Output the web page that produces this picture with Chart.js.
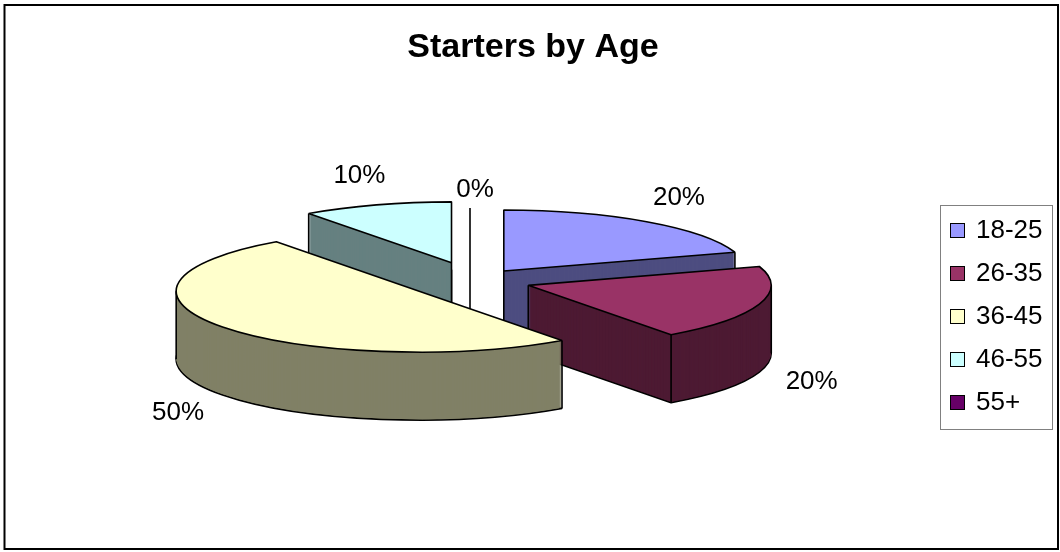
<!DOCTYPE html>
<html>
<head>
<meta charset="utf-8">
<script src="https://cdn.jsdelivr.net/npm/chart.js@4.4.1/dist/chart.umd.min.js"></script>
<style>
  html, body { margin: 0; padding: 0; background: #fff; }
</style>
</head>
<body>
<canvas id="myChart" width="1060" height="552" style="width:1060px;height:552px"></canvas>
<script>
const chartTitle = 'Starters by Age';
const categories = ['18-25', '26-35', '36-45', '46-55', '55+'];
const shares = [20, 20, 50, 10, 0];

const topColors = ['#9999FF', '#993366', '#FFFFCC', '#CCFFFF', '#660066'];
const sideColors = ['#4D4D80', '#4D1A33', '#808066', '#668080', '#330033'];
const explode = [49, 56, 69, 76, 0];

const FONT = 'Arial, "Liberation Sans", sans-serif';

// draws a slice through the library's own arc element, squashed and shifted
function paintArc(ctx, s, dy, fill, line, k) {
  const arc = s.arc;
  const orig = arc.options;
  arc.options = Object.assign({}, orig, { backgroundColor: fill, borderWidth: line, offset: 0, spacing: 0 });
  ctx.save();
  ctx.translate(s.cx, s.cy + dy);
  ctx.scale(1, k);
  ctx.translate(-arc.x, -arc.y);
  arc.draw(ctx);
  ctx.restore();
  arc.options = orig;
}

function drawSlice(ctx, s, opts, k) {
  const arc = s.arc;
  const depth = opts.depth;
  const r = arc.outerRadius;
  const line = arc.options.borderWidth;
  const a0 = arc.startAngle, a1 = arc.endAngle;

  if (arc.circumference === 0) {
    // empty slice: its cut face is seen edge-on
    ctx.beginPath();
    ctx.moveTo(s.cx - 5, s.cy - r * k - 12);
    ctx.lineTo(s.cx - 5, s.cy + depth);
    ctx.lineWidth = line;
    ctx.strokeStyle = '#000';
    ctx.stroke();
    return;
  }

  const side = opts.sides[s.i];
  paintArc(ctx, s, depth, side, line, k);
  for (let dy = depth - 1; dy > 0; dy--) paintArc(ctx, s, dy, side, 0, k);

  // vertical edges that can be seen
  const eps = 1e-6;
  const at = (a) => [s.cx + Math.cos(a) * r, s.cy + Math.sin(a) * r * k];
  const startFace = Math.cos(a0) < -eps;
  const endFace = Math.cos(a1) > eps;
  const pts = [];
  if (startFace || endFace) pts.push([s.cx, s.cy]);
  if (startFace || Math.sin(a0) > eps) pts.push(at(a0));
  if (endFace || Math.sin(a1) > eps) pts.push(at(a1));
  [0, Math.PI, 2 * Math.PI].forEach(a => { if (a > a0 + eps && a < a1 - eps) pts.push(at(a)); });
  ctx.beginPath();
  pts.forEach(([x, y]) => { ctx.moveTo(x, y); ctx.lineTo(x, y + depth); });
  ctx.lineWidth = line;
  ctx.strokeStyle = '#000';
  ctx.stroke();

  paintArc(ctx, s, 0, arc.options.backgroundColor, line, k);
}

const pie3d = {
  id: 'pie3d',
  beforeDatasetsDraw(chart, args, opts) {
    const ctx = chart.ctx;
    const meta = chart.getDatasetMeta(0);
    const k = opts.squash;
    const base = ctx.getTransform();
    const slices = meta.data.map((arc, i) => {
      const mid = (arc.startAngle + arc.endAngle) / 2;
      const e = opts.explode[i] || 0;
      return { arc, i, mid, cx: arc.x + Math.cos(mid) * e, cy: arc.y + Math.sin(mid) * e * k };
    });
    // back slices first
    const order = slices.slice().sort((a, b) => Math.sin(a.mid) - Math.sin(b.mid));

    // outlines are stroked without the squash so they keep an even width
    const protoStroke = CanvasRenderingContext2D.prototype.stroke;
    ctx.stroke = function () {
      this.save();
      this.setTransform(base);
      protoStroke.call(this);
      this.restore();
    };
    order.forEach(s => drawSlice(ctx, s, opts, k));
    delete ctx.stroke;

    // percentage labels
    ctx.save();
    ctx.font = opts.labelSize + 'px ' + FONT;
    ctx.fillStyle = '#000';
    ctx.textAlign = 'center';
    ctx.textBaseline = 'middle';
    slices.forEach(s => {
      const r = s.arc.outerRadius;
      const sn = Math.sin(s.mid);
      const x = s.cx + Math.cos(s.mid) * (r + opts.labelGap[0]);
      const y = s.cy + sn * (r * k + opts.labelGap[1]) + (sn > 0 ? opts.depth : 0);
      ctx.fillText(shares[s.i] + '%', x, y);
    });
    ctx.restore();
    return false;
  }
};

const frame = {
  id: 'frame',
  beforeDraw(chart) {
    const c = chart.ctx;
    c.save();
    c.fillStyle = '#fff';
    c.fillRect(0, 0, chart.width, chart.height);
    c.restore();
  },
  afterDraw(chart) {
    const c = chart.ctx;
    c.save();
    c.strokeStyle = '#000';
    c.lineWidth = 2;
    c.strokeRect(4.5, 5, 1053.5, 544);

    c.fillStyle = '#000';
    c.font = 'bold 34px ' + FONT;
    c.textAlign = 'center';
    c.textBaseline = 'alphabetic';
    c.fillText(chartTitle, 533, 57);

    // legend
    c.lineWidth = 1;
    c.strokeStyle = '#808080';
    c.strokeRect(940.5, 205.5, 112, 224);
    c.font = '26px ' + FONT;
    c.textAlign = 'left';
    c.textBaseline = 'middle';
    categories.forEach((name, i) => {
      const y = 230 + i * 43;
      c.fillStyle = topColors[i];
      c.fillRect(950.5, y - 6.5, 14, 14);
      c.strokeStyle = '#000';
      c.strokeRect(950.5, y - 6.5, 14, 14);
      c.fillStyle = '#000';
      c.fillText(name, 976, y + 1);
    });
    c.restore();
  }
};

const ctx1 = document.getElementById('myChart');

const pieChart = new Chart(ctx1, {
  type: 'pie',
  data: {
    labels: categories,
    datasets: [{
      data: shares,
      backgroundColor: topColors,
      borderColor: '#000',
      borderWidth: 1.6,
      radius: 243
    }]
  },
  options: {
    responsive: false,
    animation: false,
    events: [],
    layout: { padding: { left: 20, right: 130, top: 72, bottom: 62 } },
    plugins: {
      legend: { display: false },
      tooltip: { enabled: false },
      pie3d: { squash: 0.251, depth: 68, explode: explode, sides: sideColors, labelSize: 26, labelGap: [55, 30] }
    }
  },
  plugins: [pie3d, frame]
});
</script>
</body>
</html>
